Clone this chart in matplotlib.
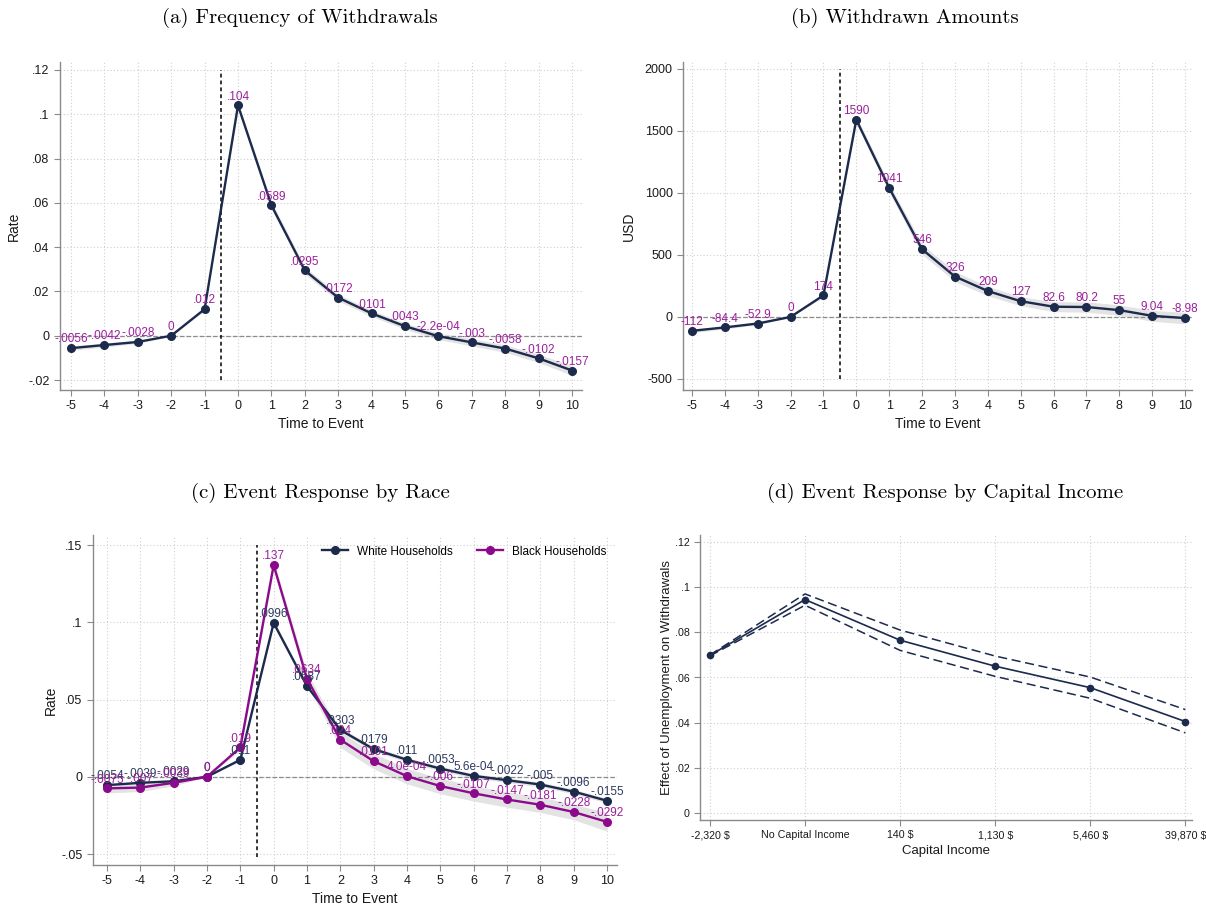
import numpy as np
import matplotlib
matplotlib.use("Agg")
import matplotlib.pyplot as plt

plt.rcParams['font.family'] = ['Liberation Sans', 'DejaVu Sans']
plt.rcParams['axes.unicode_minus'] = False

# event time
t = [-5, -4, -3, -2, -1, 0, 1, 2, 3, 4, 5, 6, 7, 8, 9, 10]

# (a) withdrawal frequency
freq = [-.0056, -.0042, -.0028, 0, .012, .104, .0589, .0295, .0172, .0101, .0043, -.00022, -.003, -.0058, -.0102, -.0157]
freq_lo = [-.0066, -.0051, -.0035, 0, .0112, .1025, .0572, .0279, .0157, .0087, .0029, -.0017, -.0046, -.0075, -.0121, -.0178]
freq_hi = [-.0046, -.0033, -.0021, 0, .0128, .1055, .0606, .0311, .0187, .0115, .0057, .0013, -.0014, -.0041, -.0083, -.0136]

# (b) withdrawn amounts, USD
amt = [-112, -84.4, -52.9, 0, 174, 1590, 1041, 546, 326, 209, 127, 82.6, 80.2, 55, 9.04, -8.98]
amt_hw = [15, 12, 10, 0, 15, 30, 35, 42, 40, 38, 36, 40, 42, 42, 44, 46]

# (c) by race
white = [-.0054, -.0039, -.0029, 0, .011, .0996, .0587, .0303, .0179, .011, .0053, .00056, -.0022, -.005, -.0096, -.0155]
white_hw = [.001, .001, .001, 0, .001, .0015, .0015, .0015, .0015, .0015, .0015, .0015, .0015, .0015, .0015, .0015]
black = [-.0075, -.007, -.0039, 0, .019, .137, .0634, .024, .0101, .0004, -.006, -.0107, -.0147, -.0181, -.0228, -.0292]
black_hw = [.003, .0025, .002, 0, .002, .003, .004, .005, .005, .005, .005, .005, .005, .005, .005, .006]

# (d) by capital income
cap_labels = ["-2,320 $", "No Capital Income", "140 $", "1,130 $", "5,460 $", "39,870 $"]
cap_eff = [.0698, .0945, .0765, .065, .0555, .0405]
cap_lo = [.0696, .092, .072, .0605, .0508, .0355]
cap_hi = [.0700, .097, .081, .0695, .0602, .0458]

NAVY = '#1c2a4c'
MAG = '#9b1f9b'
PURPLE = '#8b0a8b'
BAND = '#e3e3e3'
SPINE = '#8a8a8a'


def stata_fmt(v, sig=3):
    if v == 0:
        return "0"
    if abs(v) < 0.001:
        return f"{v:.1e}"
    s = f"{v:.{sig}g}"
    return s.replace("-0.", "-.").replace("0.", ".", 1) if s.lstrip("-").startswith("0.") else s


def style(ax, xt, xtl, yt, ytl, xlab, ylab, ylab_x, fs=9):
    ax.set_xticks(xt)
    ax.set_xticklabels(xtl, fontsize=fs)
    ax.set_yticks(yt)
    ax.set_yticklabels(ytl, fontsize=fs)
    for s in ['top', 'right']:
        ax.spines[s].set_visible(False)
    for s in ['left', 'bottom']:
        ax.spines[s].set_color(SPINE)
        ax.spines[s].set_linewidth(1.0)
    ax.tick_params(colors=SPINE, labelcolor='#1a1a1a', length=4, width=0.8)
    ax.grid(True, linestyle=(0, (1, 2)), color='#cfcfcf', linewidth=0.8)
    ax.set_axisbelow(True)
    ax.set_xlabel(xlab, fontsize=10, color='#1a1a1a', labelpad=3)
    ax.set_ylabel(ylab, fontsize=10, color='#1a1a1a')
    ax.yaxis.set_label_coords(ylab_x, 0.5)


def point_labels(ax, x, y, color, sig=3, fs=8.5, dy=2):
    for xi, yi in zip(x, y):
        ax.annotate(stata_fmt(yi, sig), (xi, yi), xytext=(0, dy), textcoords='offset points',
                    ha='center', va='bottom', fontsize=fs, color=color)


fig = plt.figure(figsize=(12.06, 9.06), dpi=100)
W, H = 1206, 906


def add_axes(l, r, top, bot):
    return fig.add_axes([l / W, 1 - bot / H, (r - l) / W, (bot - top) / H])


tick_t = t
tick_tl = [str(v) for v in t]

# ---- (a)
ax = add_axes(60, 582, 62, 390)
ax.fill_between(t, freq_lo, freq_hi, color=BAND, lw=0)
ax.axhline(0, color='#8c8c8c', ls='--', lw=0.9)
ax.vlines(-0.5, -.02, .12, color='black', ls=(0, (2.5, 2)), lw=1.1)
ax.plot(t, freq, color=NAVY, lw=1.7, marker='o', ms=5.5, zorder=3)
point_labels(ax, t, freq, MAG)
ax.set_xlim(-5.33, 10.3)
ax.set_ylim(-.0245, .1236)
style(ax, tick_t, tick_tl, [-.02, 0, .02, .04, .06, .08, .1, .12],
      ["-.02", "0", ".02", ".04", ".06", ".08", ".1", ".12"], "Time to Event", "Rate", -0.075)
fig.text(300 / W, 1 - 18 / H, "(a) Frequency of Withdrawals", family='cmr10', fontsize=15,
         ha='center', va='center')

# ---- (b)
ax = add_axes(683, 1192, 62, 390)
amt_lo = [a - h for a, h in zip(amt, amt_hw)]
amt_hi = [a + h for a, h in zip(amt, amt_hw)]
ax.fill_between(t, amt_lo, amt_hi, color=BAND, lw=0)
ax.axhline(0, color='#8c8c8c', ls='--', lw=0.9)
ax.vlines(-0.5, -500, 2000, color='black', ls=(0, (2.5, 2)), lw=1.1)
ax.plot(t, amt, color=NAVY, lw=1.7, marker='o', ms=5.5, zorder=3)
point_labels(ax, t, amt, MAG, sig=4)
ax.set_xlim(-5.27, 10.21)
ax.set_ylim(-589, 2056)
style(ax, tick_t, tick_tl, [-500, 0, 500, 1000, 1500, 2000],
      ["-500", "0", "500", "1000", "1500", "2000"], "Time to Event", "USD", -0.092)
fig.text(905 / W, 1 - 18 / H, "(b) Withdrawn Amounts", family='cmr10', fontsize=15,
         ha='center', va='center')

# ---- (c)
ax = add_axes(93, 617, 535, 865)
ax.fill_between(t, np.array(black) - black_hw, np.array(black) + black_hw, color=BAND, lw=0)
ax.fill_between(t, np.array(white) - white_hw, np.array(white) + white_hw, color=BAND, lw=0)
ax.axhline(0, color='#8c8c8c', ls='--', lw=0.9)
ax.vlines(-0.5, -.052, .15, color='black', ls=(0, (2.5, 2)), lw=1.1)
ax.plot(t, white, color=NAVY, lw=1.7, marker='o', ms=5.5, zorder=3, label="White Households")
ax.plot(t, black, color=PURPLE, lw=1.7, marker='o', ms=5.5, zorder=3, label="Black Households")
point_labels(ax, t, white, '#2c3a5c')
point_labels(ax, t, black, MAG)
ax.set_xlim(-5.42, 10.3)
ax.set_ylim(-.0571, .1565)
style(ax, tick_t, tick_tl, [-.05, 0, .05, .1, .15],
      ["-.05", "0", ".05", ".1", ".15"], "Time to Event", "Rate", -0.067)
ax.legend(loc='upper right', ncol=2, frameon=False, fontsize=8.5, handlelength=2.2,
          columnspacing=2.0, bbox_to_anchor=(1.0, 1.0))
fig.text(320 / W, 1 - 493 / H, "(c) Event Response by Race", family='cmr10', fontsize=15,
         ha='center', va='center')

# ---- (d)
ax = add_axes(700, 1192, 535, 820)
xc = np.arange(len(cap_labels))
ax.plot(xc, cap_hi, color=NAVY, lw=1.1, ls=(0, (6, 3)))
ax.plot(xc, cap_lo, color=NAVY, lw=1.1, ls=(0, (6, 3)))
ax.plot(xc, cap_eff, color=NAVY, lw=1.2, marker='o', ms=4.5, zorder=3)
ax.set_xlim(-0.105, 5.07)
ax.set_ylim(-.0031, .1231)
style(ax, xc, cap_labels, [0, .02, .04, .06, .08, .1, .12],
      ["0", ".02", ".04", ".06", ".08", ".1", ".12"], "Capital Income",
      "Effect of Unemployment on Withdrawals", -0.055, fs=7.7)
ax.xaxis.label.set_size(9.5)
ax.yaxis.label.set_size(9.5)
fig.text(945 / W, 1 - 493 / H, "(d) Event Response by Capital Income", family='cmr10', fontsize=15,
         ha='center', va='center')

fig.savefig("out.png", dpi=100, facecolor='white')
